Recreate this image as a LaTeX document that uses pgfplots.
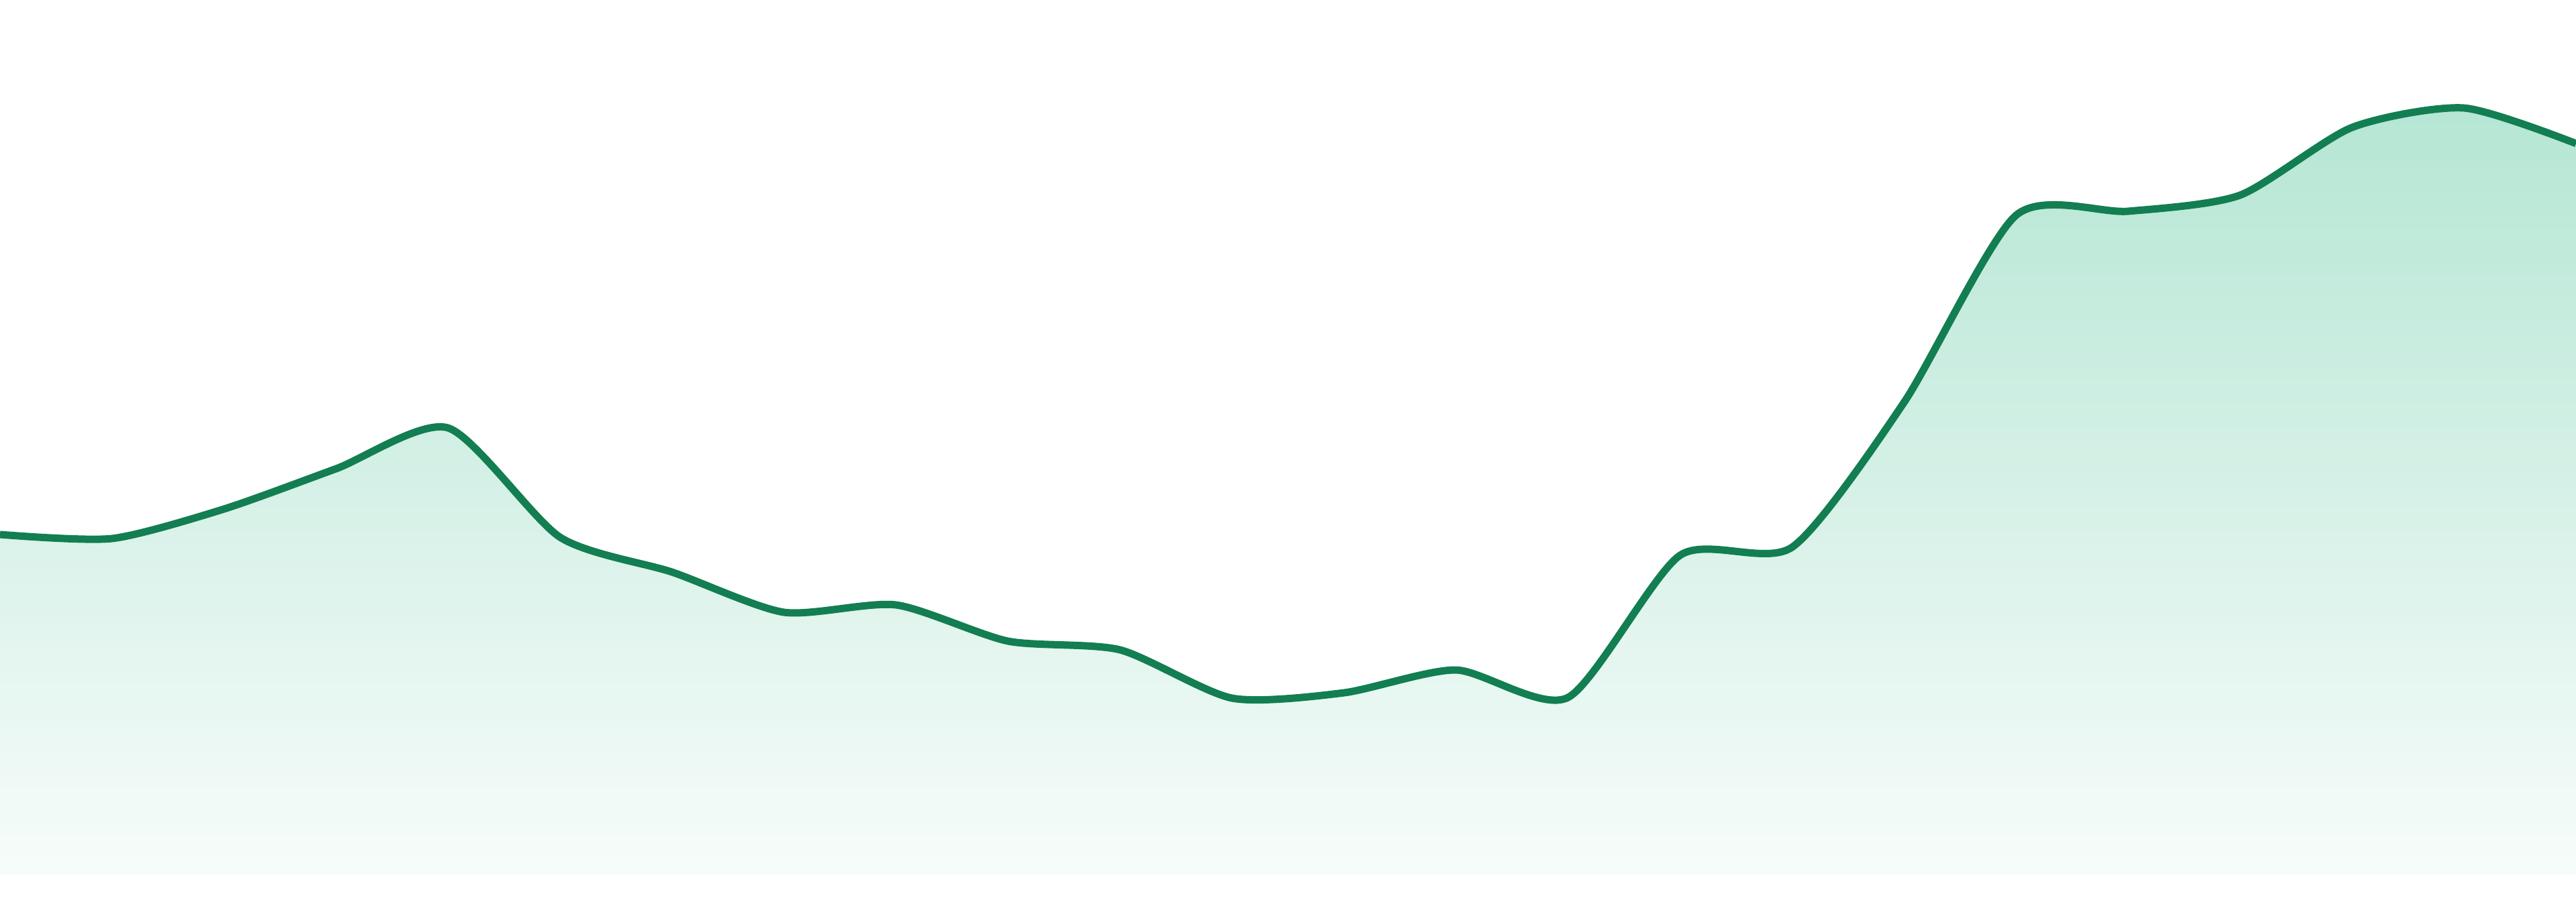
\documentclass[border=0pt]{standalone}
\usepackage{pgfplots}
\pgfplotsset{compat=1.18}

\definecolor{lineGreen}{RGB}{18,126,82}
\definecolor{fillTop}{RGB}{181,230,212}
\definecolor{fillBottom}{RGB}{247,252,250}

\pgfplotstableread{
x   y
0   508
1   502
2   546
3   606
4   667
5   504
6   452
7   392
8   403
9   349
10  336
11  264
12  272
13  306
14  265
15  477
16  489
17  705
18  984
19  990
20  1014
21  1115
22  1144
23  1091
}\sparkdata

\begin{document}
\begin{tikzpicture}
\begin{axis}[
    scale only axis,
    width=384pt,
    height=134.4pt,
    hide axis,
    xmin=0, xmax=23,
    ymin=-39, ymax=1305,
    clip=true,
]
% area under the line, vertical gradient
\addplot [draw=none, top color=fillTop, bottom color=fillBottom,
    smooth, tension=0.42] table [x=x, y=y] {\sparkdata} \closedcycle;
% the line itself
\addplot [lineGreen, line width=1.1pt, smooth, tension=0.42]
    table [x=x, y=y] {\sparkdata};
\end{axis}
\path (current axis.south west) rectangle (current axis.north east);
\end{tikzpicture}
\end{document}
